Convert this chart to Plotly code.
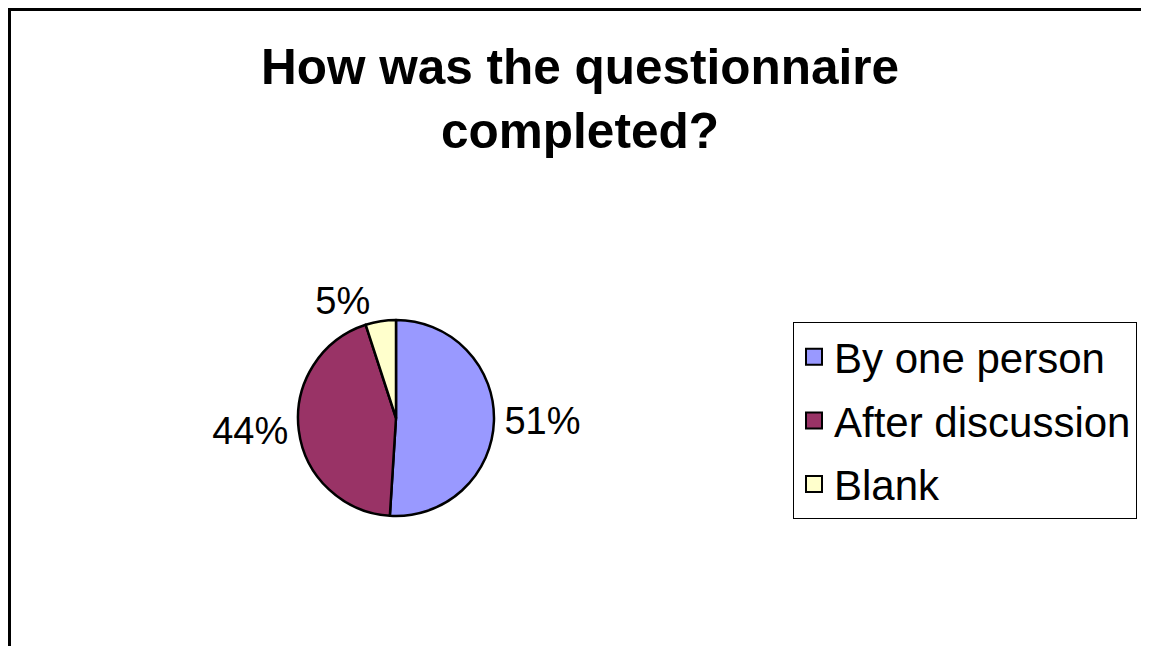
import plotly.graph_objects as go

categories = ["By one person", "After discussion", "Blank"]
values = [51, 44, 5]
colors = ["#9999FF", "#993366", "#FFFFCC"]
title_text = "How was the questionnaire<br>completed?"

# The page body has an 8px default margin; size the figure so it fits the window
OFF = 8
W, H = 1149 - OFF, 646 - OFF
FONT = "Liberation Sans, Arial, sans-serif"

def px_x(x):
    return (x - OFF) / W

def px_y(y):
    return 1 - (y - OFF) / H

fig = go.Figure()
fig.add_trace(go.Pie(
    labels=categories,
    values=values,
    sort=False,
    direction="clockwise",
    rotation=0,
    marker=dict(colors=colors, line=dict(color="black", width=2.5)),
    textinfo="percent",
    textposition="outside",
    textfont=dict(family=FONT, size=38, color="black"),
    domain=dict(x=[px_x(297), px_x(495)], y=[px_y(516), px_y(320)]),
    hoverinfo="label+percent",
    showlegend=False,
))

# legend entries (one group each so the spacing can match the reference)
for cat, col in zip(categories, colors):
    fig.add_trace(go.Scatter(
        x=[None], y=[None], mode="markers", name=cat, legendgroup=cat,
        marker=dict(symbol="square", size=18, color=col, line=dict(color="black", width=2)),
        hoverinfo="skip", showlegend=True,
    ))

fig.update_layout(
    width=W, height=H,
    margin=dict(l=0, r=0, t=0, b=0),
    paper_bgcolor="white",
    plot_bgcolor="white",
    xaxis=dict(visible=False),
    yaxis=dict(visible=False),
    title=dict(text=title_text, x=px_x(580), xanchor="center",
               y=px_y(84), yanchor="middle",
               font=dict(family=FONT, size=49.5, color="black", weight="bold")),
    legend=dict(
        x=px_x(793), y=px_y(322), xanchor="left", yanchor="top",
        bordercolor="black", borderwidth=1, bgcolor="white",
        font=dict(family=FONT, size=42, color="black"),
        traceorder="grouped", tracegroupgap=6,
    ),
    showlegend=True,
    shapes=[
        dict(type="line", xref="paper", yref="paper", x0=px_x(8), x1=px_x(1146), y0=px_y(9.5), y1=px_y(9.5),
             line=dict(color="black", width=3)),
        dict(type="line", xref="paper", yref="paper", x0=px_x(9.5), x1=px_x(9.5), y0=px_y(8), y1=0,
             line=dict(color="black", width=3)),
        dict(type="line", xref="paper", yref="paper", x0=px_x(1145), x1=px_x(1145), y0=px_y(8), y1=0,
             line=dict(color="black", width=1.5)),
    ],
)

fig.write_html("out.html")
